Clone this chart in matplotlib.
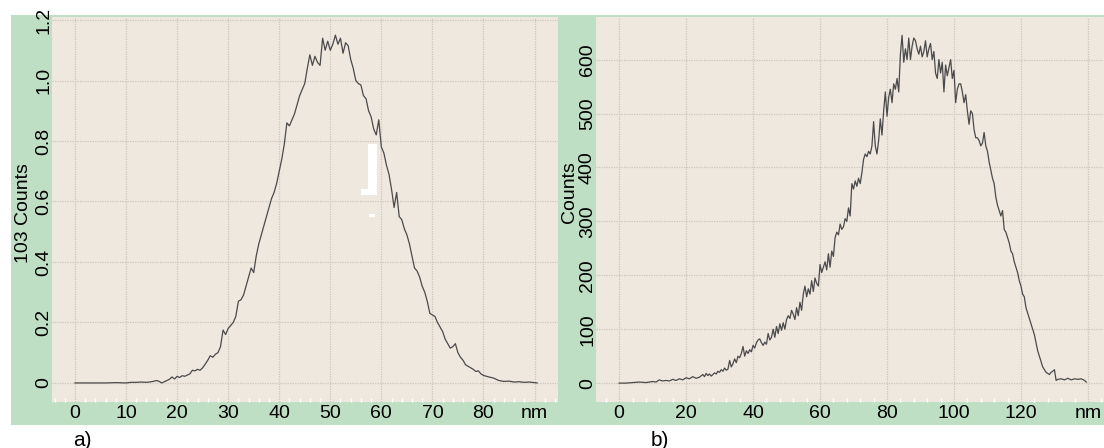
#!/usr/bin/env python3
"""Two size-distribution histograms (a: 0-90 nm, b: 0-140 nm) on a green frame."""
import matplotlib
matplotlib.use('Agg')
import matplotlib.pyplot as plt
from matplotlib.patches import Rectangle
from matplotlib.ticker import MultipleLocator

# panel a: counts in units of 10^3
xa = [0, 2, 4, 6, 8, 10, 11, 12, 13, 14, 15, 16, 16.5, 17, 17.5, 18, 18.5, 19, 19.5,
      20, 20.5, 21, 21.5, 22, 22.5, 23, 23.5, 24, 24.5, 25, 25.5, 26, 26.5, 27, 27.5,
      28, 28.5, 29, 29.5, 30, 30.5, 31, 31.5, 32, 32.5, 33, 33.5, 34, 34.5, 35, 35.5,
      36, 36.5, 37, 37.5, 38, 38.5, 39, 39.5, 40, 40.5, 41, 41.5, 42, 42.5, 43, 43.5,
      44, 44.5, 45, 45.5, 46, 46.5, 47, 47.5, 48, 48.5, 49, 49.5, 50, 50.5, 51, 51.5,
      52, 52.5, 53, 53.5, 54, 54.5, 55, 55.5, 56, 56.5, 57, 57.5, 58, 58.5, 59, 59.5,
      60, 60.5, 61, 61.5, 62, 62.5, 63, 63.5, 64, 64.5, 65, 65.5, 66, 66.5, 67, 67.5,
      68, 68.5, 69, 69.5, 70, 70.5, 71, 71.5, 72, 72.5, 73, 73.5, 74, 74.5, 75, 75.5,
      76, 76.5, 77, 77.5, 78, 78.5, 79, 79.5, 80, 81, 82, 83, 84, 85, 86, 87, 88, 89,
      90, 90.5]
ya = [0, 0, 0, 0, 0.001, 0, 0.002, 0.002, 0.003, 0.002, 0.004, 0.008, 0.005, 0.0, 0.004,
      0.008, 0.012, 0.02, 0.013, 0.022, 0.018, 0.024, 0.022, 0.026, 0.03, 0.042, 0.04,
      0.045, 0.042, 0.05, 0.062, 0.075, 0.09, 0.085, 0.095, 0.1, 0.12, 0.175, 0.16, 0.18,
      0.19, 0.2, 0.22, 0.27, 0.275, 0.29, 0.32, 0.35, 0.38, 0.365, 0.42, 0.46, 0.49, 0.52,
      0.55, 0.58, 0.61, 0.63, 0.66, 0.7, 0.74, 0.79, 0.86, 0.85, 0.87, 0.89, 0.92, 0.95,
      0.97, 0.99, 1.04, 1.085, 1.05, 1.08, 1.06, 1.05, 1.14, 1.1, 1.13, 1.1, 1.12, 1.15,
      1.12, 1.14, 1.09, 1.125, 1.115, 1.07, 1.04, 1.0, 0.99, 0.985, 0.95, 0.94, 0.9, 0.88,
      0.84, 0.82, 0.87, 0.78, 0.76, 0.72, 0.69, 0.64, 0.58, 0.63, 0.55, 0.54, 0.51, 0.49,
      0.46, 0.42, 0.38, 0.37, 0.35, 0.32, 0.3, 0.27, 0.23, 0.225, 0.22, 0.2, 0.185, 0.17,
      0.145, 0.13, 0.115, 0.12, 0.13, 0.1, 0.085, 0.075, 0.06, 0.055, 0.05, 0.045, 0.038,
      0.04, 0.03, 0.025, 0.02, 0.016, 0.008, 0.005, 0.006, 0.003, 0.004, 0.002, 0.003,
      0.001, 0.0]

# panel b: raw counts
xb = [0, 2, 4, 6, 8, 10, 11, 12, 13, 14, 15, 16, 17, 18, 19, 20, 21, 22, 23, 24, 25,
      25.5, 26, 26.5, 27, 27.5, 28, 28.5, 29, 29.5, 30, 30.5, 31, 31.5, 32, 32.5, 33,
      33.5, 34, 34.5, 35, 35.5, 36, 36.5, 37, 37.5, 38, 38.5, 39, 39.5, 40, 40.5, 41,
      41.5, 42, 42.5, 43, 43.5, 44, 44.5, 45, 45.5, 46, 46.5, 47, 47.5, 48, 48.5, 49,
      49.5, 50, 50.5, 51, 51.5, 52, 52.5, 53, 53.5, 54, 54.5, 55, 55.5, 56, 56.5, 57,
      57.5, 58, 58.5, 59, 59.5, 60, 60.5, 61, 61.5, 62, 62.5, 63, 63.5, 64, 64.5, 65,
      65.5, 66, 66.5, 67, 67.5, 68, 68.5, 69, 69.5, 70, 70.5, 71, 71.5, 72, 72.5, 73,
      73.5, 74, 74.5, 75, 75.5, 76, 76.5, 77, 77.5, 78, 78.5, 79, 79.5, 80, 80.5, 81,
      81.5, 82, 82.5, 83, 83.5, 84, 84.5, 85, 85.5, 86, 86.5, 87, 87.5, 88, 88.5, 89,
      89.5, 90, 90.5, 91, 91.5, 92, 92.5, 93, 93.5, 94, 94.5, 95, 95.5, 96, 96.5, 97,
      97.5, 98, 98.5, 99, 99.5, 100, 100.5, 101, 101.5, 102, 102.5, 103, 103.5, 104,
      104.5, 105, 105.5, 106, 106.5, 107, 107.5, 108, 108.5, 109, 109.5, 110, 110.5,
      111, 111.5, 112, 112.5, 113, 113.5, 114, 114.5, 115, 115.5, 116, 116.5, 117,
      117.5, 118, 118.5, 119, 119.5, 120, 120.5, 121, 121.5, 122, 122.5, 123, 123.5,
      124, 124.5, 125, 125.5, 126, 126.5, 127, 127.5, 128, 128.5, 129, 129.5, 130,
      130.5, 131, 132, 133, 134, 135, 136, 137, 138, 139, 139.5]
yb = [0, 0, 1, 2, 1, 3, 2, 6, 4, 5, 4, 7, 5, 8, 6, 10, 8, 12, 9, 11, 16, 12, 18, 14,
      17, 13, 16, 19, 17, 22, 20, 25, 22, 28, 24, 26, 42, 30, 36, 45, 38, 50, 47, 55,
      68, 50, 60, 55, 62, 58, 70, 65, 75, 80, 82, 75, 70, 76, 72, 92, 80, 85, 100, 85,
      105, 92, 110, 98, 112, 100, 118, 125, 120, 135, 128, 118, 140, 125, 150, 135, 165,
      180, 160, 175, 165, 190, 170, 195, 185, 180, 220, 205, 215, 225, 210, 240, 215,
      245, 235, 270, 280, 275, 295, 285, 290, 305, 300, 325, 310, 370, 360, 375, 365,
      380, 370, 390, 415, 425, 420, 430, 425, 440, 485, 440, 425, 450, 490, 460, 505,
      540, 495, 530, 545, 520, 555, 545, 565, 540, 610, 645, 595, 620, 600, 640, 600,
      625, 640, 635, 620, 610, 625, 605, 615, 635, 605, 620, 630, 600, 615, 575, 565,
      600, 575, 595, 540, 590, 570, 585, 600, 565, 580, 520, 545, 555, 555, 540, 520,
      535, 505, 480, 505, 500, 470, 455, 455, 450, 440, 445, 465, 440, 430, 410, 395,
      380, 370, 345, 330, 320, 310, 320, 285, 280, 270, 260, 245, 240, 225, 215, 205,
      190, 180, 165, 160, 140, 130, 120, 110, 100, 90, 75, 60, 50, 40, 30, 25, 20, 18,
      16, 20, 22, 25, 5, 7, 8, 6, 9, 6, 8, 7, 8, 5, 2]

xa_ticks = [0, 10, 20, 30, 40, 50, 60, 70, 80, 90]
xa_labels = ['0', '10', '20', '30', '40', '50', '60', '70', '80', 'nm']
ya_ticks = [0, 0.2, 0.4, 0.6, 0.8, 1.0, 1.2]
ya_labels = ['0', '0.2', '0.4', '0.6', '0.8', '1.0', '1.2']
xb_ticks = [0, 20, 40, 60, 80, 100, 120, 140]
xb_labels = ['0', '20', '40', '60', '80', '100', '120', 'nm']
yb_ticks = [0, 100, 200, 300, 400, 500, 600]

GREEN = '#bfdfc4'
BEIGE = '#eee8df'
GRID = '#cdc6bb'
LINE = '#4a4a4a'
FS = 14

plt.rcParams['font.family'] = ['Liberation Sans', 'DejaVu Sans']

W, H = 1104, 448
fig = plt.figure(figsize=(W / 100, H / 100), dpi=100)
fig.patch.set_facecolor('white')
frame = Rectangle((11 / W, 1 - 425 / H), 1 - 11 / W, (425 - 15) / H,
                  transform=fig.transFigure, facecolor=GREEN, edgecolor='none')
frame.set_zorder(-10)
fig.patches.append(frame)


def style(ax, xticks, xlabels, yticks, ylabels, xminor):
    ax.set_facecolor(BEIGE)
    for s in ax.spines.values():
        s.set_visible(False)
    ax.set_xticks(xticks)
    ax.set_xticklabels(xlabels)
    ax.set_yticks(yticks)
    ax.set_yticklabels(ylabels)
    ax.xaxis.set_minor_locator(MultipleLocator(xminor))
    ax.tick_params(axis='both', which='major', length=0, labelsize=FS)
    ax.tick_params(axis='x', which='major', pad=2)
    ax.tick_params(axis='y', which='major', pad=0)
    ax.tick_params(axis='x', which='minor', direction='in', length=3,
                   color='white', width=1)
    for lab in ax.get_yticklabels():
        lab.set_rotation(90)
        lab.set_va('center')
    ax.grid(True, which='major', color=GRID, linestyle=(0, (1, 1)), linewidth=0.9)
    ax.set_axisbelow(True)


# panel a
ax_a = fig.add_axes([52 / W, 1 - 402 / H, 506 / W, 385 / H])
ax_a.plot(xa, ya, color=LINE, linewidth=0.9)
ax_a.set_xlim(-4.5, 94.6)
ax_a.set_ylim(-0.063, 1.21)
style(ax_a, xa_ticks, xa_labels, ya_ticks, ya_labels, 2)
ax_a.set_ylabel('103 Counts', fontsize=FS)
ax_a.yaxis.set_label_coords(-0.040, 0.49)

# white scan artefact inside panel a
for (x0, y0, w, h) in [(57.4, 0.64, 1.7, 0.15), (56.0, 0.62, 3.1, 0.02),
                       (57.6, 0.55, 1.2, 0.008)]:
    ax_a.add_patch(Rectangle((x0, y0), w, h, facecolor='white', edgecolor='none',
                             zorder=3))

# panel b
ax_b = fig.add_axes([596 / W, 1 - 402 / H, 508 / W, 385 / H])
ax_b.plot(xb, yb, color=LINE, linewidth=0.9)
ax_b.set_xlim(-6.9, 144.8)
ax_b.set_ylim(-35, 679)
style(ax_b, xb_ticks, xb_labels, yb_ticks, [str(v) for v in yb_ticks], 4)
ax_b.set_ylabel('Counts', fontsize=FS)
ax_b.yaxis.set_label_coords(-0.035, 0.545)

fig.text(82 / W, 1 - 440 / H, 'a)', fontsize=15, ha='center', va='center')
fig.text(660 / W, 1 - 440 / H, 'b)', fontsize=15, ha='center', va='center')

fig.savefig('out.png', dpi=100, facecolor='white')
